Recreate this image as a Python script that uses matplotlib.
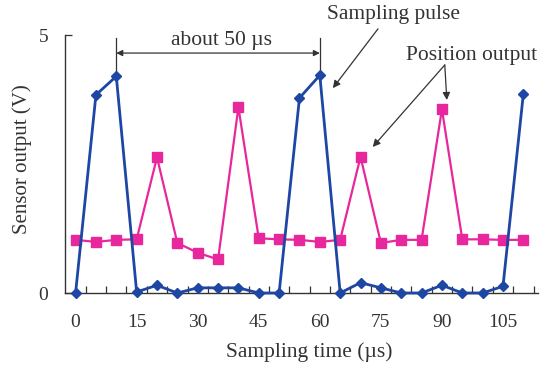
import matplotlib
matplotlib.use("Agg")
import matplotlib.pyplot as plt
import numpy as np

plt.rcParams['font.family'] = ['Liberation Serif', 'DejaVu Serif']

time_us = [0, 5, 10, 15, 20, 25, 30, 35, 40, 45, 50, 55, 60, 65, 70, 75, 80, 85, 90, 95, 100, 105, 110]
sampling_pulse = [0.0, 3.84, 4.2, 0.02, 0.15, 0.0, 0.1, 0.1, 0.1, 0.0, 0.0, 3.78, 4.22,
                  0.0, 0.2, 0.1, 0.0, 0.0, 0.15, 0.0, 0.0, 0.13, 3.86]
position_output = [1.03, 0.99, 1.03, 1.04, 2.63, 0.97, 0.78, 0.65, 3.6, 1.06, 1.04, 1.03, 0.99,
                   1.03, 2.64, 0.97, 1.03, 1.03, 3.56, 1.04, 1.04, 1.03, 1.03]
xtick_values = [0, 15, 30, 45, 60, 75, 90, 105]
ytick_values = [0, 5]

blue = '#1d47a3'
pink = '#e8279d'
ink = '#333333'

fig = plt.figure(figsize=(5.45, 3.69), dpi=100)
ax = fig.add_axes([65/545, 1-293/369, (538-65)/545, (293-35)/369])

ax.plot(time_us, sampling_pulse, color=blue, lw=2, marker='D', ms=5, clip_on=False, zorder=4)
ax.plot(time_us, position_output, color=pink, lw=1.6, marker='s', ms=7.5, clip_on=False, zorder=3)

ax.set_xlim(-2.6, 113.6)
ax.set_ylim(0, 5)
for s in ['top', 'right']:
    ax.spines[s].set_visible(False)
for s in ['left', 'bottom']:
    ax.spines[s].set_color(ink)
    ax.spines[s].set_linewidth(1.0)

ax.set_xticks(xtick_values)
ax.set_xticklabels([str(v) for v in xtick_values])
ax.tick_params(axis='x', which='major', length=0, pad=15, labelsize=14, colors=ink)
ax.set_xticks(np.arange(2.5, 113, 5), minor=True)
ax.tick_params(axis='x', which='minor', direction='in', length=5, color=ink, width=0.9)
ax.set_yticks(ytick_values)
ax.tick_params(axis='y', direction='in', length=5, pad=12, labelsize=14, colors=ink, width=0.9)

ax.set_xlabel('Sampling time (µs)', fontsize=15.5, color=ink)
ax.xaxis.set_label_coords(0.516, -0.19)
ax.set_ylabel('Sensor output (V)', fontsize=15, color=ink)
ax.yaxis.set_label_coords(-0.070, 0.52)

# "about 50 us" annotation
ax.plot([10, 10], [4.2, 4.94], color=ink, lw=0.9, clip_on=False)
ax.plot([60, 60], [4.22, 4.94], color=ink, lw=0.9, clip_on=False)
ax.annotate('', xy=(10, 4.65), xytext=(60, 4.65),
            arrowprops=dict(arrowstyle='<|-|>', color=ink, lw=0.9, mutation_scale=9,
                            shrinkA=0, shrinkB=0), annotation_clip=False)
ax.text(35.9, 4.9, 'about 50 µs', ha='center', va='center', fontsize=15.5, color=ink)

# Sampling pulse label
ax.text(78, 5.39, 'Sampling pulse', ha='center', va='center', fontsize=15.5, color=ink, clip_on=False)
ax.annotate('', xy=(63.2, 3.97), xytext=(74.3, 5.12),
            arrowprops=dict(arrowstyle='-|>', color=ink, lw=0.9, mutation_scale=11,
                            shrinkA=0, shrinkB=0), annotation_clip=False)

# Position output label
ax.text(97.3, 4.61, 'Position output', ha='center', va='center', fontsize=15.5, color=ink)
ax.annotate('', xy=(73, 2.83), xytext=(90.7, 4.42),
            arrowprops=dict(arrowstyle='-|>', color=ink, lw=0.9, mutation_scale=11,
                            shrinkA=0, shrinkB=0), annotation_clip=False)
ax.annotate('', xy=(91.2, 3.74), xytext=(90.7, 4.42),
            arrowprops=dict(arrowstyle='-|>', color=ink, lw=0.9, mutation_scale=11,
                            shrinkA=0, shrinkB=0), annotation_clip=False)

fig.savefig('out.png', dpi=100)
